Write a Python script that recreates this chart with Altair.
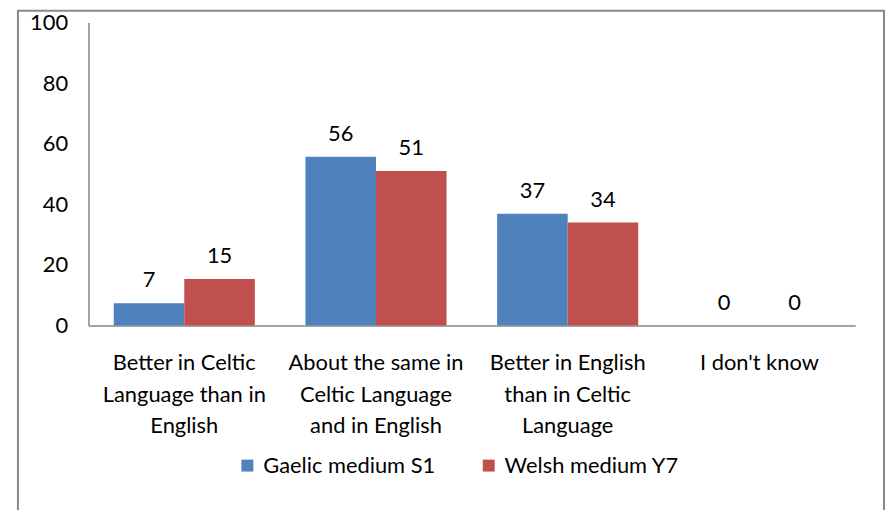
import altair as alt
import pandas as pd

categories = [
    "Better in Celtic|Language than in|English",
    "About the same in|Celtic Language|and in English",
    "Better in English|than in Celtic|Language",
    "I don't know",
]
series_names = ["Gaelic medium S1", "Welsh medium Y7"]
gaelic_values = [7.4, 55.7, 36.9, 0]
welsh_values = [15.4, 51.0, 34.0, 0]
colors = ["#4F81BD", "#C0504D"]
y_ticks = [0, 20, 40, 60, 80, 100]

rows = []
for c, g, w in zip(categories, gaelic_values, welsh_values):
    rows.append({"category": c, "series": series_names[0], "value": g})
    rows.append({"category": c, "series": series_names[1], "value": w})
df = pd.DataFrame(rows)

FONT = "Lato"
FS = 22
W, H = 772, 305

x_enc = alt.X(
    "category:N",
    sort=categories,
    scale=alt.Scale(paddingInner=0.264, paddingOuter=0.132),
    axis=alt.Axis(
        title=None,
        labelAngle=0,
        labelExpr="split(datum.value, '|')",
        labelFont=FONT,
        labelFontSize=FS,
        labelColor="#000000",
        labelLineHeight=32,
        labelPadding=27,
        labelBaseline="top",
        ticks=False,
        domainColor="#868686",
        domainWidth=1.5,
        labelLimit=300,
    ),
)
y_enc = alt.Y(
    "value:Q",
    scale=alt.Scale(domain=[0, 100], nice=False),
    axis=alt.Axis(
        title=None,
        values=y_ticks,
        grid=False,
        ticks=False,
        labelFont=FONT,
        labelFontSize=FS,
        labelColor="#000000",
        labelPadding=21,
        domainColor="#868686",
        domainWidth=1.5,
    ),
)

base = alt.Chart(df)

bars = base.mark_bar().encode(
    x=x_enc,
    xOffset=alt.XOffset("series:N", sort=series_names, scale=alt.Scale(paddingInner=0, paddingOuter=0)),
    y=y_enc,
    color=alt.Color(
        "series:N",
        sort=series_names,
        scale=alt.Scale(domain=series_names, range=colors),
        legend=alt.Legend(
            title=None,
            orient="none",
            direction="horizontal",
            legendX=149,
            legendY=435,
            symbolType="square",
            symbolSize=144,
            symbolStrokeWidth=0,
            labelFont=FONT,
            labelFontSize=FS,
            labelColor="#000000",
            labelOffset=5,
            columnPadding=42,
            padding=0,
            labelLimit=300,
        ),
    ),
)

labels = base.mark_text(
    font=FONT, fontSize=FS, color="#000000", baseline="alphabetic", dy=-16
).encode(
    x=alt.X("category:N", sort=categories),
    xOffset=alt.XOffset("series:N", sort=series_names),
    y=alt.Y("value:Q"),
    text=alt.Text("value:Q", format=".0f"),
)

frame = alt.Chart(pd.DataFrame({"a": [0]})).mark_rect(
    fillOpacity=0, stroke="#898989", strokeWidth=2
).encode(
    x=alt.value(-71),
    x2=alt.value(801),
    y=alt.value(-12),
    y2=alt.value(700),
)

chart = (
    alt.layer(bars, labels, frame)
    .properties(
        width=W,
        height=H,
        autosize=alt.AutoSizeParams(type="none"),
        padding={"left": 81, "top": 13, "right": 31, "bottom": 184},
        background="white",
    )
    .configure_view(strokeWidth=0, stroke="transparent")
)

chart.save("out.html", embed_options={"renderer": "svg", "actions": False})
